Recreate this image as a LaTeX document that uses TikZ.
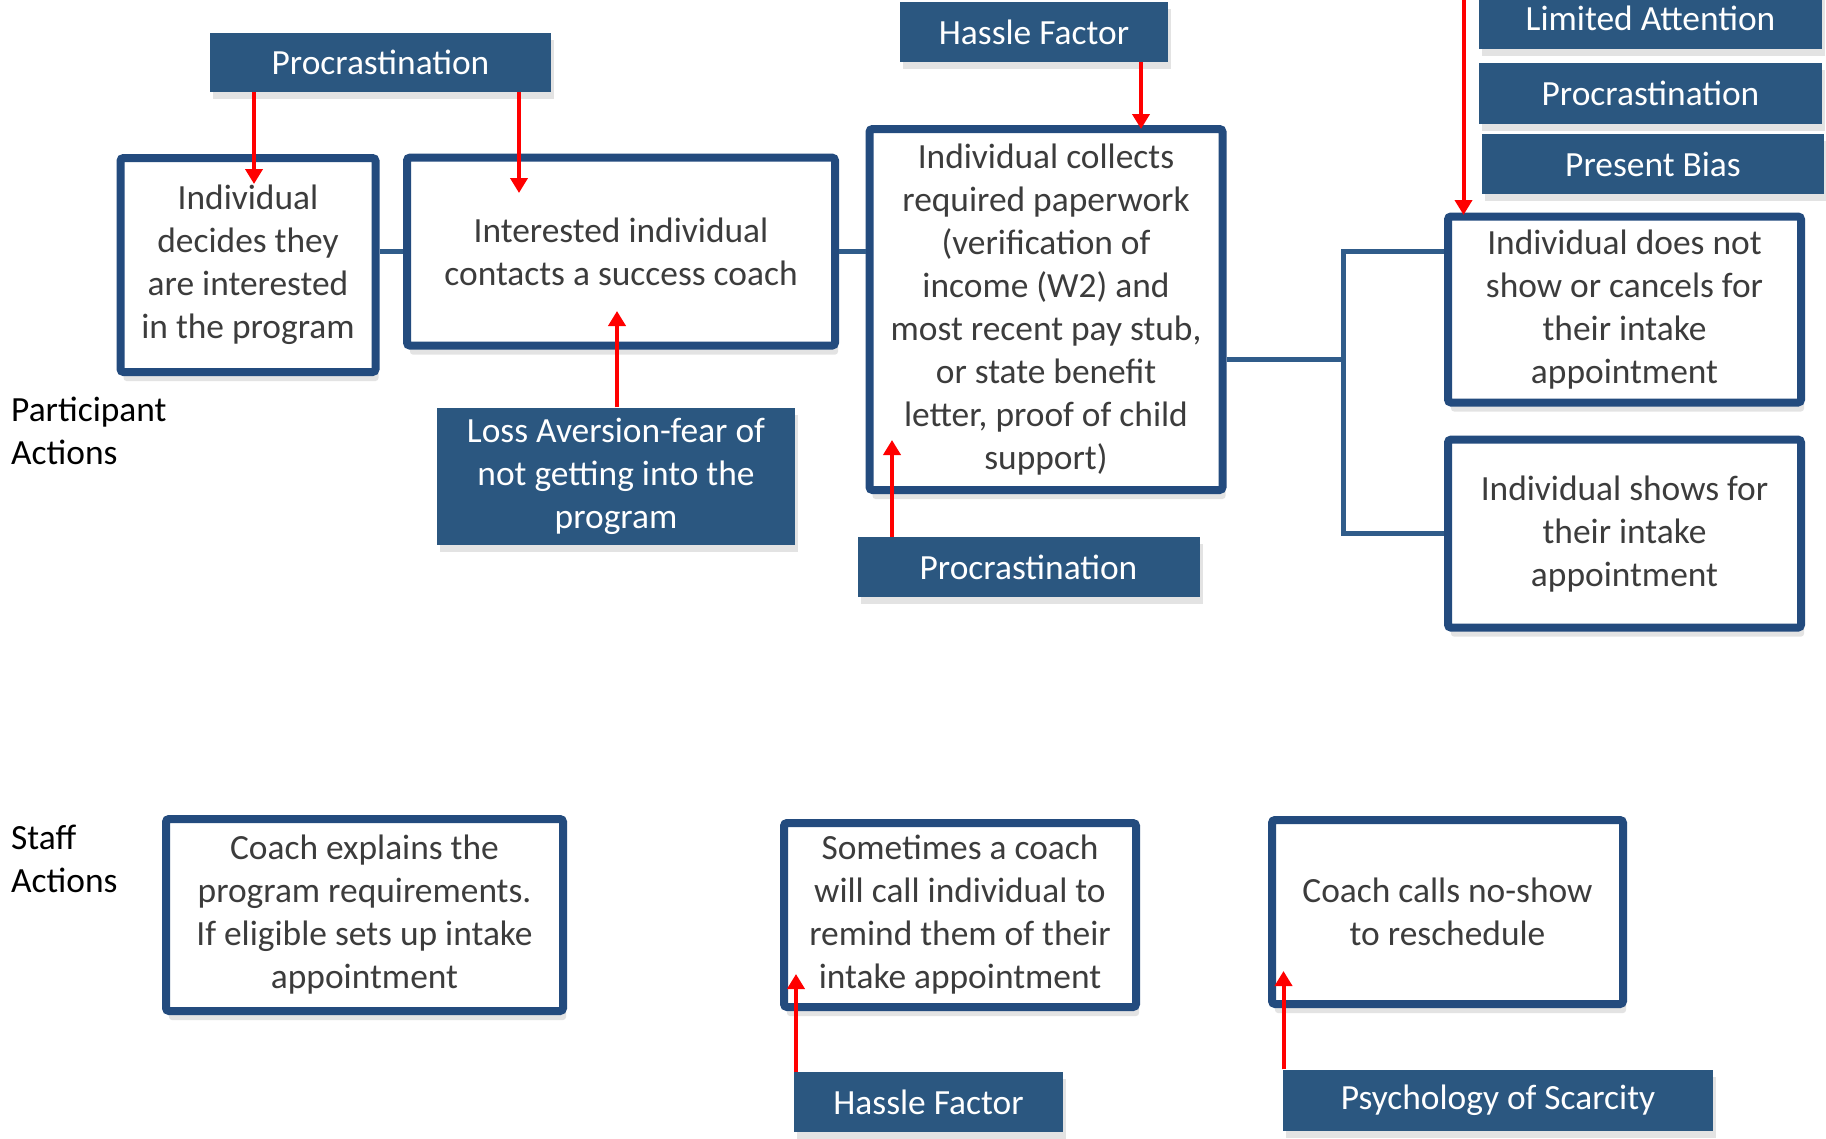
\documentclass[tikz,border=0pt]{standalone}
\usepackage{fontspec}
\setmainfont{Carlito}
\usetikzlibrary{arrows.meta,shadows}
\definecolor{bordc}{HTML}{234B7E}
\definecolor{fillc}{HTML}{2B5780}
\definecolor{connc}{HTML}{305C8A}
\definecolor{txtc}{HTML}{3C3C3C}
\tikzset{
  base/.style={font=\fontsize{35.4}{43}\selectfont, align=center, inner sep=0pt},
  lift/.style={execute at begin node={\rule{0pt}{38pt}}},
  wbox/.style={base, lift, draw=bordc, line width=8pt, fill=white, rounded corners=3pt, text=txtc,
    drop shadow={opacity=0.18, fill=black!60, shadow xshift=3pt, shadow yshift=-9pt}},
  fillbox/.style={base, fill=fillc, text=white,
    drop shadow={opacity=0.18, fill=black!60, shadow xshift=3pt, shadow yshift=-7pt}},
  conn/.style={draw=connc, line width=5pt},
  rarr/.style={draw=red, line width=4pt, -{Triangle[length=15pt,width=17pt]}},
  lbl/.style={base, align=left, anchor=west, text=black}
}
\begin{document}
\begin{tikzpicture}[x=1pt,y=-1pt]
\useasboundingbox (0,0) rectangle (1826,1138);
\clip (0,0) rectangle (1826,1138);
\fill[white] (0,0) rectangle (1826,1138);

% junction coordinates
\coordinate (ja) at (1343,251);
\coordinate (jb) at (1343,359);

% participant boxes
\node[wbox, minimum width=255pt, minimum height=214pt] (B1) at (248,265) {Individual\\decides they\\are interested\\in the program};
\node[wbox, minimum width=428pt, minimum height=188pt] (B2) at (621,251.6) {Interested individual\\contacts a success coach};
\node[wbox, minimum width=353pt, minimum height=361pt] (B3) at (1046,309.5) {Individual collects\\required paperwork\\(verification of\\income (W2) and\\most recent pay stub,\\or state benefit\\letter, proof of child\\support)};
\node[wbox, minimum width=353pt, minimum height=186pt] (B4) at (1624.5,309.5) {Individual does not\\show or cancels for\\their intake\\appointment};
\node[wbox, minimum width=353pt, minimum height=188pt] (B5) at (1624.5,533.6) {Individual shows for\\their intake\\appointment};

% staff boxes
\node[wbox, minimum width=397pt, minimum height=192pt] (C1) at (364.5,915) {Coach explains the\\program requirements.\\If eligible sets up intake\\appointment};
\node[wbox, minimum width=352pt, minimum height=184pt] (C2) at (960,915) {Sometimes a coach\\will call individual to\\remind them of their\\intake appointment};
\node[wbox, minimum width=351pt, minimum height=184pt] (C3) at (1447.5,912) {Coach calls no-show\\to reschedule};

% factor boxes
\node[fillbox, minimum width=341pt, minimum height=59pt] (P1) at (380.5,62.5) {Procrastination};
\node[fillbox, minimum width=268pt, minimum height=60pt] (HF1) at (1034,32) {Hassle Factor};
\node[fillbox, minimum width=343pt, minimum height=61pt] (LA) at (1650.5,18) {Limited Attention};
\node[fillbox, minimum width=343pt, minimum height=61pt] (PR2) at (1650.5,93.5) {Procrastination};
\node[fillbox, minimum width=342pt, minimum height=60pt] (PB) at (1653,164) {Present Bias};
\node[fillbox, lift, minimum width=358pt, minimum height=137pt] (LAv) at (616,476) {Loss Aversion-fear of\\not getting into the\\program};
\node[fillbox, minimum width=342pt, minimum height=60pt] (P3) at (1028.5,567) {Procrastination};
\node[fillbox, minimum width=269pt, minimum height=60pt] (HF2) at (928.5,1102) {Hassle Factor};
\node[fillbox, minimum width=430pt, minimum height=61pt] (PS) at (1498,1100) {Psychology of Scarcity};

% row labels
\node[lbl] (PA) at (11,430.5) {Participant\\Actions};
\node[lbl] (SA) at (11,858.5) {Staff\\Actions};

% connectors
\draw[conn] (B1.east |- B2.west) -- (B2.west);
\draw[conn] (B2.east) -- (B2.east -| B3.west);
\draw[conn] (B3.east |- jb) -- (jb);
\draw[conn] (B4.west |- ja) -- (ja) -- (ja |- B5.west) -- (B5.west);

% red arrows
\coordinate (t1) at (254,184);
\coordinate (t2) at (519,193);
\coordinate (t3) at (617,311);
\coordinate (t4) at (892,440);
\coordinate (t5) at (1141,129);
\coordinate (s6) at (1463.5,-2);
\coordinate (t6) at (1463.5,215);
\coordinate (t7) at (796,974);
\coordinate (t8) at (1283.5,971);
\draw[rarr] (P1.south -| t1) -- (t1);
\draw[rarr] (P1.south -| t2) -- (t2);
\draw[rarr] (LAv.north -| t3) -- (t3);
\draw[rarr] (P3.north -| t4) -- (t4);
\draw[rarr] (HF1.south -| t5) -- (t5);
\draw[rarr] (s6) -- (t6);
\draw[rarr] (HF2.north -| t7) -- (t7);
\draw[rarr] (PS.north -| t8) -- (t8);
\end{tikzpicture}
\end{document}
